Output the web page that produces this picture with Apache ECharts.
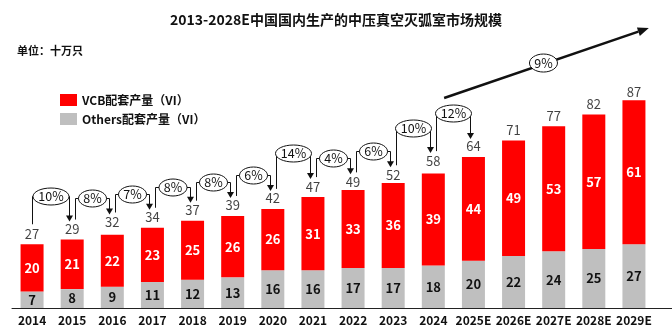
<!DOCTYPE html>
<html><head><meta charset="utf-8">
<script src="https://cdn.jsdelivr.net/npm/echarts@6/dist/echarts.min.js"></script>
<style>html,body{margin:0;padding:0;background:#fff}#c{width:672px;height:329px}</style>
</head><body><div id="c"></div>
<script>
const years = ['2014','2015','2016','2017','2018','2019','2020','2021','2022','2023','2024','2025E','2026E','2027E','2028E','2029E'];
const others = [7,8,9,11,12,13,16,16,17,17,18,20,22,24,25,27];
const vcb = [20,21,22,23,25,26,26,31,33,36,39,44,49,53,57,61];
const totals = [27,29,32,34,37,39,42,47,49,52,58,64,71,77,82,87];
const growth = ['10%','8%','7%','8%','8%','6%','14%','4%','6%','10%','12%'];
const cagrLabel = '9%';
const titleText = '2013-2028E中国国内生产的中压真空灭弧室市场规模';
const unitText = '单位：十万只';
const seriesNames = ['VCB配套产量（VI）','Others配套产量（VI）'];

// styling: extra lift (px) of some growth callouts
const calloutLift = [10,0,0,0,0,0,10,0,0,9,10];
const FONT = '"Noto Sans CJK SC", "Noto Sans", sans-serif';

const chart = echarts.init(document.getElementById('c'));
chart.setOption({
  animation: false,
  title: { text: titleText, left: 'center', top: 8,
    textStyle: { fontSize: 14, fontWeight: 'bold', color: '#111', fontFamily: FONT } },
  legend: { data: seriesNames, orient: 'vertical', left: 55, top: 89, icon: 'rect',
    itemWidth: 17, itemHeight: 12, itemGap: 7,
    textStyle: { fontSize: 12, fontWeight: 'bold', color: '#111', fontFamily: FONT } },
  grid: { left: 12, right: 18, top: 72, bottom: 21 },
  xAxis: { type: 'category', data: years,
    axisLine: { lineStyle: { color: '#222', width: 1 } },
    axisTick: { show: false },
    axisLabel: { color: '#111', fontWeight: 'bold', fontSize: 12, margin: 6, fontFamily: FONT, interval: 0 } },
  yAxis: { type: 'value', min: 0, max: 100, show: false, splitLine: { show: false } },
  series: [
    { name: seriesNames[1], type: 'bar', stack: 's', data: others, barWidth: 23,
      itemStyle: { color: '#BFBFBF' },
      label: { show: true, position: 'inside', color: '#111', fontWeight: 'bold', fontSize: 13, fontFamily: FONT } },
    { name: seriesNames[0], type: 'bar', stack: 's', data: vcb, barWidth: 23,
      itemStyle: { color: '#FF0000' },
      label: { show: true, position: 'inside', color: '#fff', fontWeight: 'bold', fontSize: 13, fontFamily: FONT } },
    { name: 'total', type: 'scatter', data: totals, symbolSize: 0, silent: true,
      label: { show: true, position: 'top', distance: 4, color: '#111', fontSize: 13, fontFamily: FONT,
        formatter: p => p.value } }
  ]
});

function px(i, v) { return chart.convertToPixel({ gridIndex: 0 }, [i, v]); }
const g = [];
const lineStyle = { stroke: '#111', lineWidth: 1 };
g.push({ type: 'text', left: 17, top: 45, style: { text: unitText, font: 'bold 11px ' + FONT, fill: '#111' } });
const pEnd = px(15, 0);
g.push({ type: 'line', shape: { x1: pEnd[0], y1: pEnd[1] + 0.5, x2: 672, y2: pEnd[1] + 0.5 }, style: { stroke: '#222', lineWidth: 1 } });

growth.forEach((txt, i) => {
  const pL = px(i, totals[i]);
  const pR = px(i + 1, totals[i + 1]);
  const xL = Math.round(pL[0] + (i === 0 ? 0 : 3)) + 0.5;
  const xR = Math.round(pR[0] - 3) + 0.5;
  const yL0 = pL[1] - 20;
  const yTip = pR[1] - 18;
  const ey = Math.round(pR[1] - 10 - 24 - calloutLift[i]) + 0.5;
  const ex = (xL + xR) / 2;
  g.push({ type: 'polyline', z: 100, shape: { points: [[xL, yL0], [xL, ey], [xR, ey], [xR, yTip - 5]] }, style: lineStyle });
  g.push({ type: 'polygon', z: 100, shape: { points: [[xR - 3.5, yTip - 6], [xR + 3.5, yTip - 6], [xR, yTip]] }, style: { fill: '#111' } });
  const rx = txt.length > 2 ? 18 : 14;
  g.push({ type: 'ellipse', z: 101, shape: { cx: ex, cy: ey, rx: rx, ry: 8.5 }, style: { fill: '#fff', stroke: '#111', lineWidth: 1 } });
  g.push({ type: 'text', z: 102, x: ex, y: ey, style: { text: txt, font: '12.5px ' + FONT, fill: '#111', textAlign: 'center', textVerticalAlign: 'middle' } });
});

const a0 = px(10, 89), a1 = px(11, 89), b0 = px(15, 118.6), b1 = px(14, 118.6);
const sx = a0[0] + 0.27 * (a1[0] - a0[0]), sy = a0[1];
const tx = b0[0] + 0.37 * (b0[0] - b1[0]), ty = b0[1];
const ang = Math.atan2(ty - sy, tx - sx);
const hl = 11, hw = 4.5;
const bx = tx - hl * Math.cos(ang), by = ty - hl * Math.sin(ang);
g.push({ type: 'line', z: 100, shape: { x1: sx, y1: sy, x2: bx, y2: by }, style: { stroke: '#111', lineWidth: 2.5 } });
g.push({ type: 'polygon', z: 100, shape: { points: [[tx, ty], [bx + hw * Math.sin(ang), by - hw * Math.cos(ang)], [bx - hw * Math.sin(ang), by + hw * Math.cos(ang)]] }, style: { fill: '#111' } });
const cx = (sx + tx) / 2 - 3, cy = (sy + ty) / 2;
g.push({ type: 'ellipse', z: 101, shape: { cx: cx, cy: cy, rx: 14, ry: 9 }, style: { fill: '#fff', stroke: '#111', lineWidth: 1 } });
g.push({ type: 'text', z: 102, x: cx, y: cy, style: { text: cagrLabel, font: '12.5px ' + FONT, fill: '#111', textAlign: 'center', textVerticalAlign: 'middle' } });

chart.setOption({ graphic: g });
</script></body></html>
